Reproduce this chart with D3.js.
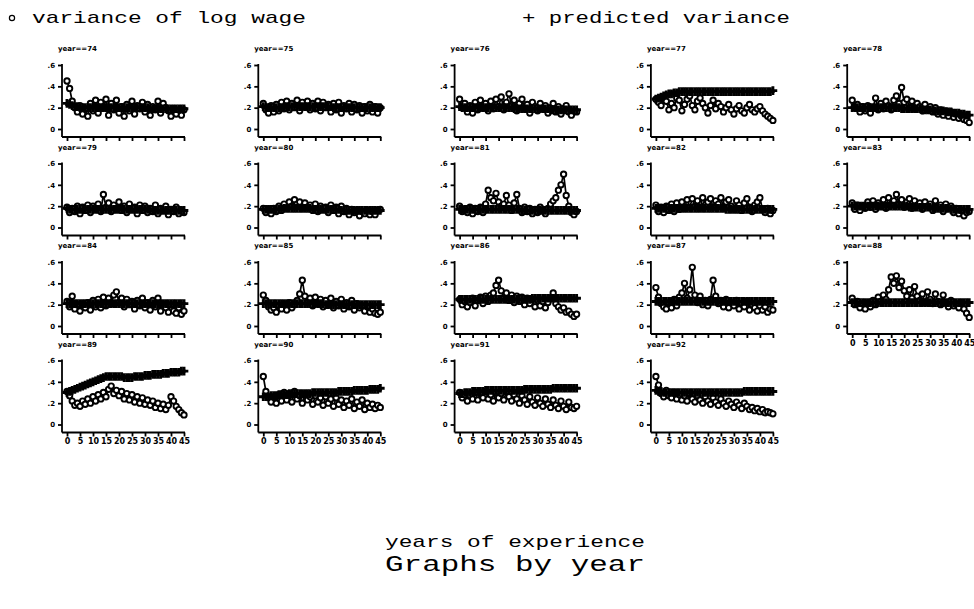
<!DOCTYPE html>
<html>
<head>
<meta charset="utf-8">
<script src="https://cdn.jsdelivr.net/npm/d3@7"></script>
<style>
  body { margin: 0; background: #fff; }
  svg { display: block; }
</style>
</head>
<body>
<div id="chart"></div>
<script>
// years of experience 0..45
const experience = d3.range(0, 46);
const years = [74, 75, 76, 77, 78, 79, 80, 81, 82, 83, 84, 85, 86, 87, 88, 89, 90, 91, 92];
const yTicks = [0, .2, .4, .6];
const xTicks = [0, 5, 10, 15, 20, 25, 30, 35, 40, 45];

// observed variance of log wage, one row per year
const observed = [
  [.45,.38,.26,.20,.16,.22,.14,.19,.12,.24,.17,.27,.15,.25,.20,.28,.13,.24,.18,.27,.15,.21,.12,.23,.17,.26,.14,.22,.19,.25,.16,.23,.13,.21,.18,.26,.15,.24,.20,.17,.12,.19,.14,.18,.13,.18],
  [.24,.18,.15,.22,.16,.23,.17,.25,.19,.26,.18,.24,.20,.27,.17,.25,.21,.26,.18,.24,.19,.26,.17,.25,.20,.23,.16,.24,.18,.25,.15,.22,.19,.24,.16,.23,.18,.22,.15,.21,.17,.23,.16,.21,.15,.20],
  [.28,.20,.24,.16,.22,.15,.25,.18,.27,.20,.24,.17,.26,.19,.28,.21,.30,.18,.25,.33,.22,.27,.17,.24,.28,.19,.23,.15,.25,.21,.17,.24,.19,.22,.15,.20,.24,.16,.21,.14,.19,.22,.16,.13,.17,.16],
  [.28,.25,.22,.30,.26,.18,.24,.20,.29,.27,.17,.23,.28,.31,.22,.18,.26,.29,.24,.20,.15,.22,.27,.19,.24,.21,.16,.20,.23,.18,.14,.19,.22,.17,.15,.20,.23,.18,.16,.19,.21,.17,.14,.12,.10,.08],
  [.27,.20,.23,.16,.21,.17,.22,.15,.20,.29,.18,.24,.19,.26,.22,.18,.27,.31,.24,.39,.25,.28,.20,.26,.19,.24,.21,.17,.23,.18,.21,.16,.20,.14,.18,.13,.17,.12,.16,.11,.14,.10,.12,.09,.08,.06],
  [.19,.14,.18,.15,.20,.13,.19,.16,.21,.14,.20,.17,.22,.15,.31,.19,.23,.15,.21,.17,.24,.16,.20,.14,.22,.17,.19,.13,.21,.16,.20,.14,.18,.15,.21,.13,.18,.16,.20,.12,.17,.15,.19,.13,.16,.14],
  [.18,.14,.17,.13,.18,.15,.20,.16,.22,.18,.24,.20,.26,.22,.24,.18,.23,.19,.21,.16,.22,.15,.20,.17,.19,.14,.21,.16,.19,.13,.20,.15,.18,.12,.17,.14,.16,.11,.15,.13,.16,.12,.15,.12,.16,.17],
  [.20,.15,.17,.14,.19,.13,.18,.15,.19,.14,.22,.35,.28,.25,.32,.24,.20,.22,.30,.21,.16,.23,.31,.18,.14,.19,.15,.18,.13,.17,.14,.19,.16,.13,.18,.22,.25,.28,.35,.40,.50,.30,.20,.14,.12,.15],
  [.21,.15,.19,.14,.20,.16,.22,.15,.23,.17,.24,.18,.26,.19,.27,.20,.25,.18,.28,.21,.24,.27,.19,.25,.22,.28,.18,.24,.26,.20,.17,.25,.21,.16,.23,.27,.19,.15,.21,.24,.28,.17,.14,.18,.13,.16],
  [.23,.17,.21,.16,.20,.18,.24,.19,.25,.17,.23,.20,.26,.18,.28,.21,.25,.31,.22,.26,.19,.24,.27,.18,.25,.21,.23,.17,.24,.20,.22,.16,.25,.19,.21,.15,.22,.18,.20,.14,.18,.13,.16,.11,.14,.15],
  [.23,.18,.28,.16,.20,.14,.21,.17,.22,.15,.24,.18,.25,.17,.27,.19,.26,.21,.29,.32,.22,.26,.18,.25,.20,.23,.16,.24,.19,.26,.17,.22,.15,.24,.18,.26,.14,.21,.17,.13,.20,.14,.12,.17,.11,.14],
  [.29,.24,.18,.15,.17,.13,.19,.16,.21,.15,.22,.17,.20,.24,.30,.43,.28,.22,.26,.19,.27,.21,.25,.18,.24,.20,.26,.17,.23,.19,.25,.16,.22,.18,.24,.15,.21,.17,.19,.14,.18,.13,.16,.12,.11,.13],
  [.25,.20,.23,.18,.22,.26,.19,.24,.27,.21,.28,.23,.29,.31,.38,.43,.33,.26,.31,.24,.29,.22,.28,.23,.27,.20,.26,.21,.25,.18,.24,.19,.23,.17,.22,.26,.31,.21,.18,.15,.17,.13,.14,.11,.09,.11],
  [.36,.27,.21,.18,.16,.22,.17,.25,.19,.27,.31,.40,.26,.34,.55,.29,.22,.28,.20,.24,.19,.25,.43,.28,.21,.24,.18,.25,.17,.22,.19,.24,.16,.21,.18,.23,.15,.20,.17,.14,.19,.15,.18,.13,.16,.15],
  [.26,.20,.23,.17,.21,.16,.22,.18,.24,.20,.27,.23,.29,.25,.34,.46,.40,.47,.36,.42,.33,.28,.34,.26,.37,.28,.24,.30,.22,.32,.25,.21,.30,.23,.20,.29,.22,.18,.24,.19,.21,.17,.22,.16,.12,.08],
  [.31,.27,.22,.18,.20,.17,.22,.19,.24,.20,.26,.22,.28,.24,.30,.26,.33,.36,.29,.32,.27,.31,.24,.29,.23,.28,.21,.26,.20,.25,.19,.23,.18,.22,.16,.20,.15,.19,.14,.18,.26,.22,.17,.14,.11,.09],
  [.45,.31,.25,.21,.26,.20,.28,.22,.30,.23,.29,.21,.31,.24,.27,.20,.29,.23,.26,.19,.27,.21,.25,.18,.26,.20,.24,.17,.25,.19,.23,.16,.22,.18,.24,.15,.21,.17,.23,.14,.20,.16,.19,.15,.18,.16],
  [.30,.25,.28,.22,.27,.24,.30,.23,.29,.25,.31,.24,.28,.22,.30,.25,.29,.23,.31,.26,.22,.28,.24,.20,.27,.23,.19,.26,.21,.18,.25,.20,.17,.24,.19,.16,.23,.18,.15,.22,.17,.14,.21,.16,.15,.17],
  [.45,.37,.29,.26,.32,.27,.25,.30,.24,.28,.23,.27,.22,.29,.24,.21,.27,.23,.20,.26,.22,.19,.25,.21,.18,.24,.20,.17,.22,.19,.16,.21,.18,.15,.20,.17,.14,.16,.13,.15,.12,.14,.11,.12,.11,.10]
];

// predicted variance, one row per year
const predicted = [
  [.24,.23,.22,.21,.21,.20,.20,.20,.20,.20,.20,.20,.20,.20,.20,.20,.20,.20,.20,.20,.20,.20,.20,.20,.20,.20,.20,.20,.20,.20,.20,.20,.19,.19,.19,.19,.19,.19,.19,.19,.19,.19,.19,.19,.19,.19],
  [.21,.20,.20,.20,.20,.20,.20,.20,.21,.21,.21,.21,.21,.21,.21,.21,.21,.21,.21,.21,.21,.21,.21,.21,.21,.21,.21,.20,.20,.20,.20,.20,.20,.20,.20,.20,.20,.20,.20,.20,.20,.20,.20,.20,.20,.20],
  [.21,.20,.20,.20,.20,.20,.20,.20,.20,.20,.20,.20,.20,.20,.20,.20,.20,.20,.20,.20,.20,.19,.19,.19,.19,.19,.19,.19,.19,.19,.19,.19,.19,.19,.19,.18,.18,.18,.18,.18,.18,.18,.18,.18,.18,.18],
  [.28,.29,.30,.31,.32,.33,.33,.34,.34,.35,.35,.35,.35,.35,.35,.35,.35,.35,.35,.35,.35,.35,.35,.35,.35,.35,.35,.35,.35,.35,.35,.35,.35,.35,.35,.35,.35,.35,.35,.35,.35,.35,.35,.35,.35,.36],
  [.20,.20,.20,.20,.20,.20,.20,.20,.20,.20,.20,.20,.20,.20,.20,.20,.20,.20,.20,.19,.19,.19,.19,.19,.19,.19,.19,.18,.18,.18,.18,.18,.17,.17,.17,.17,.16,.16,.16,.15,.15,.15,.14,.14,.13,.13],
  [.18,.17,.17,.17,.17,.17,.17,.17,.17,.17,.17,.17,.17,.17,.17,.17,.17,.17,.17,.17,.17,.17,.17,.17,.17,.17,.17,.17,.17,.17,.17,.17,.16,.16,.16,.16,.16,.16,.16,.16,.16,.16,.16,.16,.16,.16],
  [.17,.17,.17,.17,.17,.17,.17,.17,.18,.18,.18,.18,.18,.18,.18,.18,.18,.18,.18,.17,.17,.17,.17,.17,.17,.17,.17,.17,.17,.17,.16,.16,.16,.16,.16,.16,.16,.16,.16,.16,.16,.16,.16,.16,.16,.16],
  [.17,.17,.17,.17,.17,.17,.17,.17,.17,.17,.17,.17,.17,.17,.17,.17,.17,.17,.17,.17,.17,.17,.17,.17,.16,.16,.16,.16,.16,.16,.16,.16,.16,.16,.16,.16,.16,.16,.16,.16,.16,.16,.16,.16,.16,.16],
  [.18,.18,.18,.18,.18,.18,.18,.18,.18,.18,.18,.18,.18,.18,.18,.18,.18,.18,.18,.18,.18,.18,.18,.18,.18,.18,.18,.17,.17,.17,.17,.17,.17,.17,.17,.17,.17,.17,.17,.17,.17,.17,.17,.17,.17,.17],
  [.20,.20,.20,.20,.20,.20,.20,.20,.20,.20,.20,.20,.20,.20,.20,.20,.20,.20,.20,.20,.20,.20,.19,.19,.19,.19,.19,.19,.19,.19,.19,.18,.18,.18,.18,.18,.18,.18,.17,.17,.17,.17,.17,.17,.17,.17],
  [.21,.21,.21,.21,.21,.21,.21,.21,.21,.21,.21,.21,.21,.21,.21,.21,.21,.21,.21,.21,.21,.21,.21,.21,.21,.21,.21,.21,.21,.21,.21,.21,.21,.21,.21,.21,.21,.21,.21,.21,.21,.21,.21,.21,.21,.21],
  [.21,.21,.21,.21,.21,.21,.21,.21,.21,.21,.21,.21,.21,.21,.21,.21,.21,.21,.21,.21,.21,.21,.21,.21,.20,.20,.20,.20,.20,.20,.20,.20,.20,.20,.20,.20,.20,.20,.20,.20,.20,.20,.20,.20,.20,.20],
  [.25,.25,.25,.25,.25,.25,.25,.25,.25,.25,.25,.25,.25,.25,.25,.25,.25,.25,.25,.25,.25,.25,.25,.25,.25,.25,.25,.25,.26,.26,.26,.26,.26,.26,.26,.26,.26,.26,.26,.26,.26,.26,.26,.26,.26,.26],
  [.23,.23,.23,.23,.23,.23,.23,.23,.23,.23,.23,.23,.23,.23,.23,.23,.23,.23,.23,.23,.23,.23,.23,.23,.23,.23,.23,.23,.23,.23,.23,.23,.23,.23,.23,.23,.23,.23,.23,.23,.23,.23,.23,.23,.23,.23],
  [.22,.22,.22,.22,.22,.22,.22,.22,.22,.22,.22,.22,.22,.22,.22,.22,.22,.22,.22,.22,.22,.22,.22,.22,.22,.22,.22,.22,.22,.22,.22,.22,.22,.22,.22,.22,.22,.22,.22,.22,.22,.22,.22,.22,.22,.22],
  [.30,.31,.32,.33,.34,.35,.36,.37,.38,.39,.40,.41,.42,.43,.44,.45,.45,.45,.45,.45,.45,.45,.44,.44,.44,.44,.45,.45,.45,.45,.46,.46,.46,.47,.47,.47,.47,.48,.48,.48,.49,.49,.49,.49,.50,.50],
  [.26,.26,.26,.27,.27,.27,.28,.28,.28,.28,.29,.29,.29,.29,.29,.29,.29,.29,.29,.30,.30,.30,.30,.30,.30,.30,.30,.30,.30,.31,.31,.31,.31,.31,.31,.32,.32,.32,.32,.32,.32,.33,.33,.33,.33,.34],
  [.29,.29,.30,.30,.30,.31,.31,.31,.31,.31,.32,.32,.32,.32,.32,.32,.32,.32,.32,.32,.32,.32,.32,.32,.32,.33,.33,.33,.33,.33,.33,.33,.33,.33,.33,.33,.34,.34,.34,.34,.34,.34,.34,.34,.34,.34],
  [.32,.31,.31,.30,.30,.30,.30,.30,.30,.30,.30,.30,.30,.30,.30,.30,.30,.30,.30,.30,.30,.30,.30,.30,.30,.30,.30,.30,.30,.30,.30,.30,.30,.30,.31,.31,.31,.31,.31,.31,.31,.31,.31,.31,.31,.31]
];

const W = 974, H = 609;
const cols = 5;
const colStep = 196.3, rowStep = 98.5;
const axisX0 = 62, zeroY0 = 129;
const plotW = 122, plotH = 64;
const monoFont = "'Liberation Mono', 'DejaVu Sans Mono', monospace";
const tinyFont = "'DejaVu Sans', sans-serif";

const svg = d3.select("#chart").append("svg")
  .attr("width", W)
  .attr("height", H)
  .style("background", "#fff");

// legend across the top
svg.append("circle")
  .attr("cx", 12).attr("cy", 18).attr("r", 2.6)
  .attr("fill", "none").attr("stroke", "#000").attr("stroke-width", 1.2);
svg.append("text")
  .attr("x", 32).attr("y", 23)
  .attr("textLength", 274).attr("lengthAdjust", "spacingAndGlyphs")
  .style("font-family", monoFont).style("font-size", "17px")
  .text("variance of log wage");
svg.append("text")
  .attr("x", 522).attr("y", 23)
  .attr("textLength", 268).attr("lengthAdjust", "spacingAndGlyphs")
  .style("font-family", monoFont).style("font-size", "17px")
  .text("+ predicted variance");

// bottom titles
svg.append("text")
  .attr("x", 385).attr("y", 547)
  .attr("textLength", 260).attr("lengthAdjust", "spacingAndGlyphs")
  .style("font-family", monoFont).style("font-size", "17px")
  .text("years of experience");
svg.append("text")
  .attr("x", 385).attr("y", 571)
  .attr("textLength", 260).attr("lengthAdjust", "spacingAndGlyphs")
  .style("font-family", monoFont).style("font-size", "22px")
  .text("Graphs by year");

const plus = d3.symbol().type(d3.symbolCross).size(42);

years.forEach((yr, i) => {
  const c = i % cols, r = Math.floor(i / cols);
  const ax = axisX0 + c * colStep;
  const zy = zeroY0 + r * rowStep;
  const hasPanelBelow = i + cols < years.length;

  const x = d3.scaleLinear().domain([0, 45]).range([ax + 5, ax + plotW]);
  const y = d3.scaleLinear().domain([0, .6]).range([zy, zy - plotH]);

  const g = svg.append("g");

  g.append("text")
    .attr("x", ax - 4).attr("y", zy - plotH - 14)
    .style("font-family", tinyFont).style("font-size", "7px").style("font-weight", "bold")
    .text("year==" + yr);

  // y axis
  const yAxis = g.append("g")
    .attr("transform", `translate(${ax},0)`)
    .call(d3.axisLeft(y).tickValues(yTicks).tickSize(4).tickSizeOuter(0)
      .tickFormat(d => d === 0 ? "0" : d3.format(".1f")(d).replace(/^0/, "")));
  yAxis.select(".domain").remove();
  yAxis.selectAll("line").attr("stroke-width", 1.8);
  yAxis.selectAll("text")
    .style("font-family", tinyFont).style("font-size", "7px").style("font-weight", "bold");
  g.append("line")
    .attr("x1", ax).attr("x2", ax)
    .attr("y1", y(.6) - 1).attr("y2", zy + 8)
    .attr("stroke", "#000").attr("stroke-width", 1.8);

  // x axis
  const xAxis = g.append("g")
    .attr("transform", `translate(0,${zy + 8})`)
    .call(d3.axisBottom(x).tickValues(xTicks).tickSize(4).tickSizeOuter(0));
  xAxis.select(".domain").remove();
  xAxis.selectAll("line").attr("stroke-width", 1.8);
  g.append("line")
    .attr("x1", ax).attr("x2", x(45) + 1)
    .attr("y1", zy + 8).attr("y2", zy + 8)
    .attr("stroke", "#000").attr("stroke-width", 1.8);
  if (hasPanelBelow) {
    xAxis.selectAll("text").remove();
  } else {
    xAxis.selectAll("text")
      .attr("dy", "0.6em")
      .style("font-family", tinyFont).style("font-size", "8px").style("font-weight", "bold");
  }

  const obs = experience.map((e, k) => ({e, v: observed[i][k]}));
  const pred = experience.map((e, k) => ({e, v: predicted[i][k]}));
  const line = d3.line().x(d => x(d.e)).y(d => y(d.v));

  // observed: hollow circles joined by a line
  g.append("path").datum(obs)
    .attr("d", line).attr("fill", "none")
    .attr("stroke", "#000").attr("stroke-width", 1.7);
  g.selectAll(".obs").data(obs).join("circle")
    .attr("class", "obs")
    .attr("cx", d => x(d.e)).attr("cy", d => y(d.v)).attr("r", 2.7)
    .attr("fill", "#fff").attr("stroke", "#000").attr("stroke-width", 1.9);

  // predicted: plus signs joined by a line
  g.append("path").datum(pred)
    .attr("d", line).attr("fill", "none")
    .attr("stroke", "#000").attr("stroke-width", 2);
  g.selectAll(".pred").data(pred).join("path")
    .attr("class", "pred")
    .attr("transform", d => `translate(${x(d.e)},${y(d.v)})`)
    .attr("d", plus).attr("fill", "#000");
});
</script>
</body>
</html>
